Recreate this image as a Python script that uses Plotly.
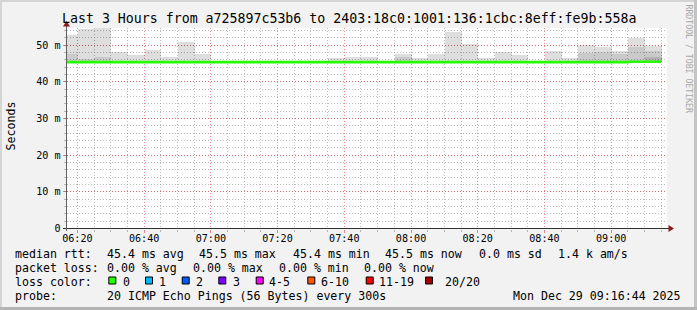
import plotly.graph_objects as go
from datetime import datetime, timedelta

W, H = 697, 310
DAY = "2025-12-29"

# ---------------- data ----------------
bin_labels = ["06:15", "06:20", "06:25", "06:30", "06:35", "06:40", "06:45", "06:50", "06:55",
              "07:00", "07:05", "07:10", "07:15", "07:20", "07:25", "07:30", "07:35", "07:40",
              "07:45", "07:50", "07:55", "08:00", "08:05", "08:10", "08:15", "08:20", "08:25",
              "08:30", "08:35", "08:40", "08:45", "08:50", "08:55", "09:00", "09:05", "09:10"]
# smoke (ms): lowest ping, outer band top, middle band top, inner band top
smoke_low = [45.35] * 36
smoke_top = [52.9, 54.3, 55.5, 48.1, 47.2, 48.8, 46.9, 51.0, 47.5,
             45.8, 45.8, 45.7, 45.7, 45.8, 45.7, 45.7, 46.4, 46.9,
             46.9, 45.8, 47.5, 46.4, 47.5, 53.6, 50.2, 46.6, 48.1,
             47.2, 45.8, 48.5, 46.6, 50.1, 49.4, 48.3, 52.1, 49.7]
smoke_mid = [47.5, 46.3, 46.8, 45.35, 45.35, 45.35, 45.35, 45.35, 45.35,
             45.35, 45.35, 45.35, 45.35, 45.35, 45.35, 45.35, 45.35, 45.35,
             45.35, 45.35, 46.9, 45.35, 45.35, 45.35, 45.35, 45.35, 45.35,
             45.35, 45.35, 45.35, 45.35, 47.8, 48.2, 47.6, 49.6, 48.5]
smoke_inner = [45.35] * 35 + [46.7]
median_rtt = [45.4, 45.4, 45.4, 45.4, 45.4, 45.4, 45.4, 45.4, 45.4,
              45.4, 45.4, 45.4, 45.4, 45.4, 45.4, 45.4, 45.4, 45.4,
              45.4, 45.4, 45.4, 45.4, 45.4, 45.4, 45.4, 45.4, 45.4,
              45.4, 45.4, 45.4, 45.4, 45.4, 45.4, 45.4, 45.5, 45.5]

x_start = "06:16:44"
x_end = "09:16:44"
y_tick_vals = [0, 10, 20, 30, 40, 50]
y_tick_text = ["0", "10 m", "20 m", "30 m", "40 m", "50 m"]

title_text = "Last 3 Hours from a725897c53b6 to 2403:18c0:1001:136:1cbc:8eff:fe9b:558a"
rtt_label = "median rtt:"
rtt_stats = ["45.4 ms avg", "45.5 ms max", "45.4 ms min", "45.5 ms now", "0.0 ms sd", "1.4 k am/s"]
loss_label = "packet loss:"
loss_stats = ["0.00 % avg", "0.00 % max", "0.00 % min", "0.00 % now"]
color_label = "loss color:"
loss_names = ["0", "1", "2", "3", "4-5", "6-10", "11-19", "20/20"]
loss_colors = ["#26ff00", "#00b8ff", "#0059ff", "#7e00ff", "#ff00ff", "#ff5500", "#ff0000", "#a10000"]
probe_label = "probe:"
probe_text = "20 ICMP Echo Pings (56 Bytes) every 300s"
stamp_text = "Mon Dec 29 09:16:44 2025"
watermark = "RRDTOOL / TOBI OETIKER"

# ---------------- layout helpers (pixel -> paper) ----------------
def px(x):
    return x / W

def py(y):
    return 1 - y / H

PL, PR, PT, PB = 66.5, 667.0, 28.0, 228.5
BIN = timedelta(minutes=5)
starts = [datetime.fromisoformat(f"{DAY} {b}:00") for b in bin_labels]
centers = [s + BIN / 2 for s in starts]

fig = go.Figure()

def smoke(top, low, color):
    fig.add_trace(go.Bar(x=centers, y=[t - l for t, l in zip(top, low)], base=low,
                         width=BIN.total_seconds() * 1000, marker_color=color,
                         marker_line_width=0, hoverinfo="skip"))

smoke(smoke_top, smoke_low, "rgba(0,0,0,0.13)")
smoke(smoke_mid, smoke_low, "rgba(0,0,0,0.09)")
smoke(smoke_inner, smoke_low, "rgba(0,0,0,0.11)")

fig.add_trace(go.Scatter(x=starts + [starts[-1] + BIN], y=median_rtt + [median_rtt[-1]],
                         mode="lines", line=dict(color=loss_colors[0], width=2.6, shape="hv"),
                         hoverinfo="skip"))

GRID = "rgba(143,143,143,0.6)"
MGRID = "rgba(222,48,48,0.55)"
DASH = "1px,2px"
MONO = "DejaVu Sans Mono"
AX = 10.1
LEG = 11.6

fig.update_layout(
    width=W, height=H, margin=dict(l=0, r=0, t=0, b=0),
    paper_bgcolor="#f2f2f2", plot_bgcolor="#ffffff",
    showlegend=False, barmode="overlay", bargap=0,
    font=dict(family=MONO, color="#000000", size=LEG),
    xaxis=dict(domain=[px(PL), px(PR)], type="date",
               range=[f"{DAY} {x_start}", f"{DAY} {x_end}"],
               tickformat="%H:%M", dtick=20 * 60 * 1000, tick0=f"{DAY} 06:20",
               showgrid=True, gridcolor=MGRID, griddash=DASH, gridwidth=1,
               ticks="outside", ticklen=3, tickcolor=MGRID, tickwidth=1,
               ticklabelstandoff=-3,
               minor=dict(dtick=5 * 60 * 1000, showgrid=True, gridcolor=GRID,
                          griddash=DASH, gridwidth=1, ticks="outside", ticklen=2,
                          tickcolor=GRID),
               tickfont=dict(family=MONO, size=AX, color="#000000"),
               showline=False, zeroline=False, automargin=False, fixedrange=True),
    yaxis=dict(domain=[py(PB), py(PT)], range=[0, 54.7],
               tickmode="array", tickvals=y_tick_vals, ticktext=y_tick_text,
               showgrid=True, gridcolor=MGRID, griddash=DASH, gridwidth=1,
               ticks="outside", ticklen=3, tickcolor=MGRID, tickwidth=1,
               minor=dict(dtick=2, showgrid=True, gridcolor=GRID, griddash=DASH,
                          gridwidth=1, ticks="outside", ticklen=2, tickcolor=GRID),
               tickfont=dict(family=MONO, size=AX, color="#000000"),
               showline=False, zeroline=False, automargin=False, fixedrange=True),
)

shapes = []
# frame
shapes.append(dict(type="rect", xref="paper", yref="paper", x0=0, x1=1, y0=py(2), y1=1,
                   fillcolor="#d4d4d4", line_width=0, layer="below"))
shapes.append(dict(type="rect", xref="paper", yref="paper", x0=0, x1=px(2), y0=0, y1=1,
                   fillcolor="#d4d4d4", line_width=0, layer="below"))
shapes.append(dict(type="rect", xref="paper", yref="paper", x0=px(W - 3), x1=1, y0=0, y1=1,
                   fillcolor="#c4c4c4", line_width=0, layer="below"))
shapes.append(dict(type="rect", xref="paper", yref="paper", x0=0, x1=1, y0=0, y1=py(H - 3),
                   fillcolor="#b4b4b4", line_width=0, layer="below"))
# axes
AXC = "#303030"
shapes.append(dict(type="line", xref="paper", yref="paper", x0=px(63), x1=px(670),
                   y0=py(PB), y1=py(PB), line=dict(color=AXC, width=1)))
shapes.append(dict(type="line", xref="paper", yref="paper", x0=px(PL), x1=px(PL),
                   y0=py(231), y1=py(25), line=dict(color="#606060", width=1)))
ARR = "#8c1c1c"
shapes.append(dict(type="path", xref="paper", yref="paper",
                   path=f"M {px(PL - 3.5)},{py(26.5)} L {px(PL + 3.5)},{py(26.5)} L {px(PL)},{py(21)} Z",
                   fillcolor=ARR, line_width=0))
shapes.append(dict(type="path", xref="paper", yref="paper",
                   path=f"M {px(668.5)},{py(PB - 3.5)} L {px(668.5)},{py(PB + 3.5)} L {px(674)},{py(PB)} Z",
                   fillcolor=ARR, line_width=0))

annotations = []

def text(t, x, y, size=LEG, xanchor="left", color="#000000", angle=0):
    annotations.append(dict(text=t, x=px(x), y=py(y), xref="paper", yref="paper",
                            xanchor=xanchor, yanchor="middle", showarrow=False,
                            borderpad=0, borderwidth=0, textangle=angle,
                            font=dict(family=MONO, size=size, color=color)))

text(title_text, W / 2, 18, size=13.25, xanchor="center")
text("Seconds", 10, 126.5, angle=-90, xanchor="center")
text(watermark, 688.5, 59, size=8.2, xanchor="center", color="#a8a8a8", angle=90)

row_y = [254, 268.3, 282.3, 296.3]
text(rtt_label, 15.3, row_y[0])
for t, x in zip(rtt_stats, [106.6, 199.3, 292.6, 385.3, 478.6, 557.6]):
    text(t, x, row_y[0])
text(loss_label, 15.3, row_y[1])
for t, x in zip(loss_stats, [106.6, 192.6, 278.6, 364.3]):
    text(t, x, row_y[1])
text(color_label, 15.3, row_y[2])
box_x = [108.3, 145.0, 181.7, 218.3, 255.7, 307.3, 365.7, 425.0]
lab_x = [122.6, 159.3, 196.0, 232.6, 269.3, 321.0, 379.3, 445.3]
for name, col, bx, lx in zip(loss_names, loss_colors, box_x, lab_x):
    shapes.append(dict(type="rect", xref="paper", yref="paper",
                       x0=px(bx + 0.5), x1=px(bx + 7.5), y0=py(284), y1=py(277),
                       fillcolor=col, line=dict(color="#000000", width=1)))
    text(name, lx, row_y[2])
text(probe_label, 15.3, row_y[3])
text(probe_text, 106.6, row_y[3])
text(stamp_text, 680.5, row_y[3], xanchor="right")

fig.update_layout(shapes=shapes, annotations=annotations)
fig.write_html("out.html")
